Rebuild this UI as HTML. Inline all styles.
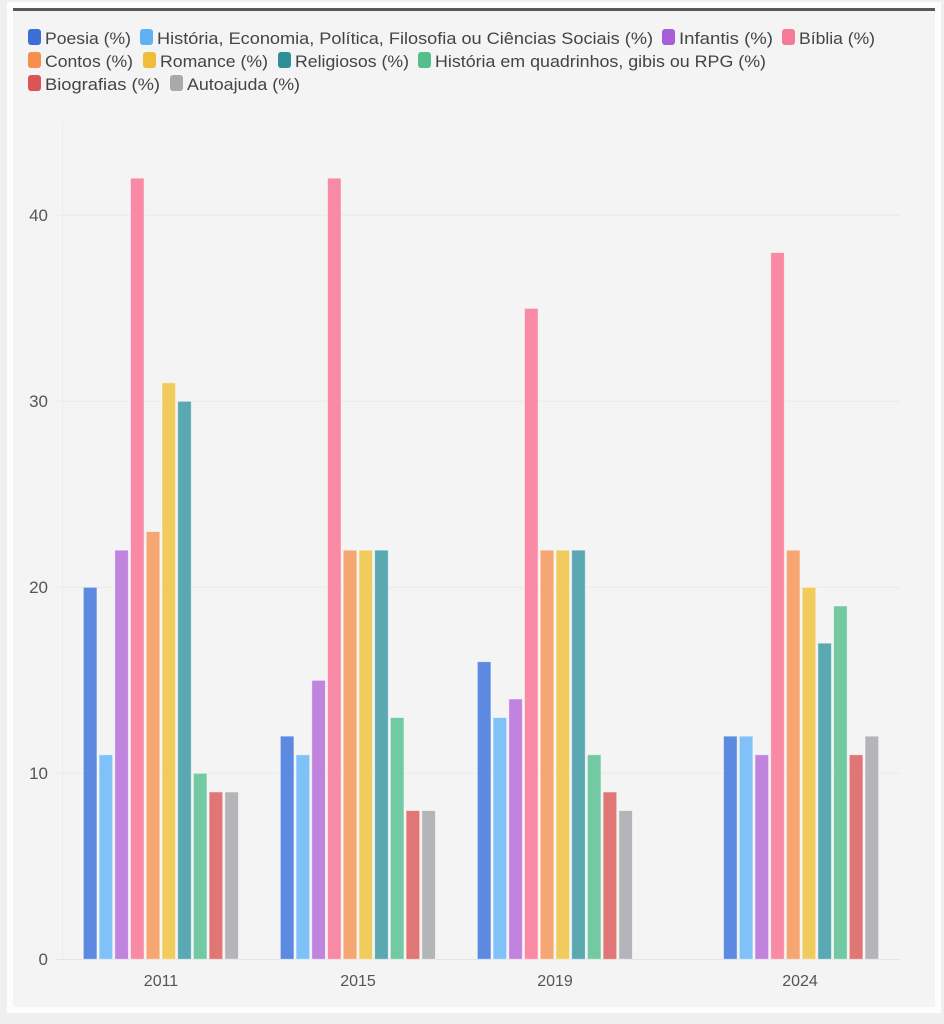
<!DOCTYPE html>
<html>
<head>
<meta charset="utf-8">
<style>
html,body{margin:0;padding:0;background:#efefef;}
svg{display:block;}
text{font-family:"Liberation Sans",sans-serif;}
</style>
</head>
<body>
<svg width="944" height="1024" viewBox="0 0 944 1024" xmlns="http://www.w3.org/2000/svg">
  <rect x="0" y="0" width="944" height="1024" fill="#efefef"/>
  <rect x="7" y="2" width="934" height="1011" fill="#fdfdfd"/>
  <rect x="13" y="8" width="922" height="999" fill="#f4f4f4"/>
  <rect x="13" y="8" width="922" height="3" fill="#585858"/>

  <!-- Legend -->
  <g font-size="17" fill="#444">
    <rect x="28" y="29" width="13" height="16" rx="3" fill="#3b6fd6"/>
    <text x="45" y="44" textLength="86" lengthAdjust="spacingAndGlyphs">Poesia (%)</text>
    <rect x="140" y="29" width="13" height="16" rx="3" fill="#5fb0f5"/>
    <text x="157" y="44" textLength="496" lengthAdjust="spacingAndGlyphs">História, Economia, Política, Filosofia ou Ciências Sociais (%)</text>
    <rect x="662" y="29" width="13" height="16" rx="3" fill="#a85ed9"/>
    <text x="679" y="44" textLength="94" lengthAdjust="spacingAndGlyphs">Infantis (%)</text>
    <rect x="782" y="29" width="13" height="16" rx="3" fill="#f47a96"/>
    <text x="799" y="44" textLength="76" lengthAdjust="spacingAndGlyphs">Bíblia (%)</text>

    <rect x="28" y="52" width="13" height="16" rx="3" fill="#f68f4e"/>
    <text x="45" y="67" textLength="88" lengthAdjust="spacingAndGlyphs">Contos (%)</text>
    <rect x="143" y="52" width="13" height="16" rx="3" fill="#f0bd3a"/>
    <text x="160" y="67" textLength="108" lengthAdjust="spacingAndGlyphs">Romance (%)</text>
    <rect x="278" y="52" width="13" height="16" rx="3" fill="#2f8f99"/>
    <text x="295" y="67" textLength="114" lengthAdjust="spacingAndGlyphs">Religiosos (%)</text>
    <rect x="418" y="52" width="13" height="16" rx="3" fill="#52bf8d"/>
    <text x="435" y="67" textLength="331" lengthAdjust="spacingAndGlyphs">História em quadrinhos, gibis ou RPG (%)</text>

    <rect x="28" y="75" width="13" height="16" rx="3" fill="#dc5555"/>
    <text x="45" y="90" textLength="115" lengthAdjust="spacingAndGlyphs">Biografias (%)</text>
    <rect x="170" y="75" width="13" height="16" rx="3" fill="#a8a9ab"/>
    <text x="187" y="90" textLength="113" lengthAdjust="spacingAndGlyphs">Autoajuda (%)</text>
  </g>

  <!-- Grid -->
  <g stroke="#e9e9e9" stroke-width="1">
    <line x1="55" y1="773.3" x2="900" y2="773.3"/>
    <line x1="55" y1="587.3" x2="900" y2="587.3"/>
    <line x1="55" y1="401.3" x2="900" y2="401.3"/>
    <line x1="55" y1="215.3" x2="900" y2="215.3"/>
  </g>
  <line x1="62.5" y1="122" x2="62.5" y2="959" stroke="#ebebeb" stroke-width="1"/>
  <line x1="55" y1="959.5" x2="900" y2="959.5" stroke="#e4e4e4" stroke-width="1"/>

  <!-- Y labels -->
  <g font-size="17" fill="#555" text-anchor="end">
    <text x="48" y="965">0</text>
    <text x="48" y="779">10</text>
    <text x="48" y="593">20</text>
    <text x="48" y="407">30</text>
    <text x="48" y="221">40</text>
  </g>

  <!-- X labels -->
  <g font-size="16" fill="#555" text-anchor="middle">
    <text x="161" y="986">2011</text>
    <text x="358" y="986">2015</text>
    <text x="555" y="986">2019</text>
    <text x="800" y="986">2024</text>
  </g>

  <!-- Bars -->
  <g id="bars" stroke="rgba(255,255,255,0.55)" stroke-width="1"></g>

  <script>
  (function(){
    var colors=["#5b8ae0","#80c2f8","#c084de","#f98aa5","#f6a672","#f2cb5f","#5aa8b2","#72c9a2","#e07676","#b4b5b8"];
    var data=[
      [83.3,[20,11,22,42,23,31,30,10,9,9]],
      [280.3,[12,11,15,42,22,22,22,13,8,8]],
      [477.3,[16,13,14,35,22,22,22,11,9,8]],
      [723.5,[12,12,11,38,22,20,17,19,11,12]]
    ];
    var g=document.getElementById("bars");
    var ns="http://www.w3.org/2000/svg";
    var base=959.3, k=18.6, pitch=15.72, w=13.7;
    data.forEach(function(d){
      d[1].forEach(function(v,i){
        var r=document.createElementNS(ns,"rect");
        var h=v*k;
        r.setAttribute("x",(d[0]+i*pitch).toFixed(2));
        r.setAttribute("y",(base-h).toFixed(2));
        r.setAttribute("width",w);
        r.setAttribute("height",h.toFixed(2));
        r.setAttribute("fill",colors[i]);
        g.appendChild(r);
      });
    });
  })();
  </script>
</svg>
</body>
</html>
